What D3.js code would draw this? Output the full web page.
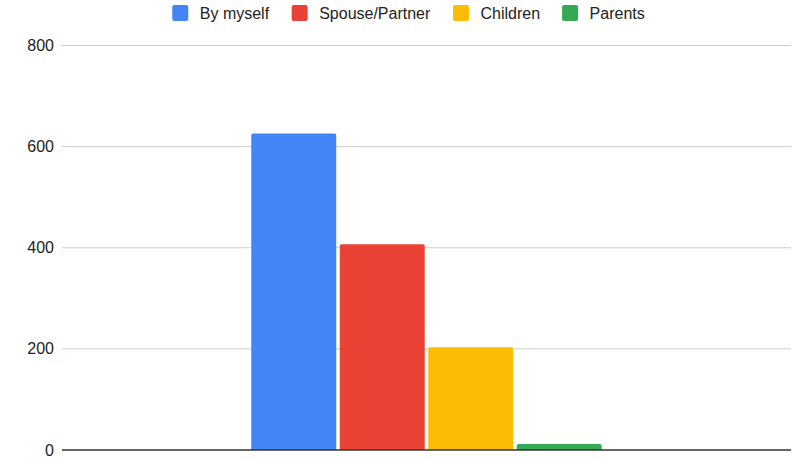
<!DOCTYPE html>
<html><head><meta charset="utf-8">
<script src="https://cdn.jsdelivr.net/npm/d3@7"></script>
<style>body{margin:0;background:#fff}svg{display:block;font-family:"Liberation Sans",Arial,sans-serif}</style>
</head><body><svg id="c" width="810" height="469"></svg>
<script>
const categories = [""];
const series = ["By myself", "Spouse/Partner", "Children", "Parents"];
const values = [626, 407, 203, 12];
const colors = ["#4285F4", "#EA4335", "#FBBC04", "#34A853"];
const yTicks = [0, 200, 400, 600, 800];

const svg = d3.select("#c");
const m = {l: 62, r: 19, t: 45.5, b: 19};
const W = 810, H = 469;
const x0 = d3.scaleBand().domain(categories).range([m.l, W - m.r]).paddingInner(0).paddingOuter(0.54);
const x1 = d3.scaleBand().domain(series).range([0, x0.bandwidth()]).paddingInner(0.04);
const y = d3.scaleLinear().domain([0, 800]).range([H - m.b, m.t]);

// gridlines
svg.append("g").selectAll("line").data(yTicks.filter(d => d > 0)).join("line")
  .attr("x1", m.l).attr("x2", W - m.r)
  .attr("y1", d => y(d)).attr("y2", d => y(d))
  .attr("stroke", "#cccccc").attr("stroke-width", 1);

// y labels
svg.append("g").selectAll("text").data(yTicks).join("text")
  .attr("x", 54).attr("y", d => y(d)).attr("dy", "0.35em")
  .attr("text-anchor", "end").attr("font-size", 16).attr("fill", "#222")
  .text(d => d);

// bars
function barPath(x, yTop, w, yBot, r) {
  r = Math.min(r, (yBot - yTop) / 2, w / 2);
  return `M${x},${yBot}V${yTop + r}Q${x},${yTop} ${x + r},${yTop}H${x + w - r}Q${x + w},${yTop} ${x + w},${yTop + r}V${yBot}Z`;
}
const g = svg.append("g");
categories.forEach(c => {
  series.forEach((s, i) => {
    const bx = x0(c) + x1(s);
    g.append("path")
      .attr("d", barPath(bx, y(values[i]), x1.bandwidth(), y(0), 2))
      .attr("fill", colors[i]);
  });
});

// zero line
svg.append("line").attr("x1", m.l).attr("x2", W - m.r)
  .attr("y1", y(0)).attr("y2", y(0)).attr("stroke", "#333").attr("stroke-width", 1.3);

// legend
const lg = svg.append("g");
const items = lg.selectAll("g").data(series).join("g");
items.append("rect").attr("width", 16).attr("height", 16).attr("rx", 2)
  .attr("y", 5).attr("fill", (d, i) => colors[i]);
items.append("text").attr("x", 27.5).attr("y", 13).attr("dy", "0.35em")
  .attr("font-size", 16).attr("fill", "#222").text(d => d);
let xPos = 0;
items.each(function() {
  const w = this.getBBox().width;
  d3.select(this).attr("transform", `translate(${xPos},0)`);
  xPos += w + 22;
});
const total = xPos - 22;
lg.attr("transform", `translate(${408.5 - total / 2},0)`);
</script></body></html>
